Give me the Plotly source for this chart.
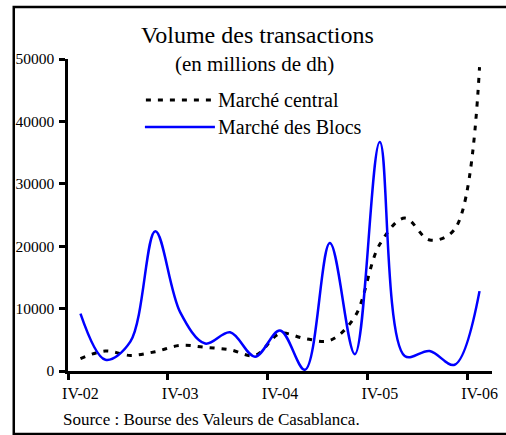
import plotly.graph_objects as go

# Quarterly transaction volumes, IV-02 .. IV-06 (millions of dh)
quarters = list(range(17))
tick_labels = ["IV-02", "IV-03", "IV-04", "IV-05", "IV-06"]
tick_positions = [0, 4, 8, 12, 16]
marche_central = [2000, 3200, 2500, 3100, 4100, 3800, 3400, 2500, 6000,
                  5200, 4900, 8700, 20300, 24500, 21000, 22700, 48700]
marche_blocs = [9200, 1800, 4700, 22400, 9400, 4400, 6200, 2300, 6500,
                200, 20500, 2700, 36700, 2400, 3200, 1000, 12800]
series_names = ["Marché central", "Marché des Blocs"]

W, H = 506, 435
L, R, T, B = 68, 498, 59, 371  # plot area in pixels
FONT = "'Liberation Serif', 'Times New Roman', serif"


def px(x):
    return (x - L) / (R - L)


def py(y):
    return (B - y) / (B - T)


fig = go.Figure()
fig.add_trace(go.Scatter(
    x=quarters, y=marche_central, mode="lines", name=series_names[0],
    line=dict(color="black", width=3, dash="5px,7px", shape="spline", smoothing=1),
    showlegend=False))
fig.add_trace(go.Scatter(
    x=quarters, y=marche_blocs, mode="lines", name=series_names[1],
    line=dict(color="#0000FF", width=2.5, shape="spline", smoothing=1),
    showlegend=False))
# invisible trace carrying the boundary tick marks of the category axis
fig.add_trace(go.Scatter(x=[-0.5], y=[0], xaxis="x2", mode="markers",
                         marker=dict(opacity=0), showlegend=False, hoverinfo="skip"))

axis_common = dict(showgrid=False, zeroline=False, showline=True, linecolor="black",
                   linewidth=2.5, ticks="outside", ticklen=6, tickwidth=2.5,
                   tickcolor="black")

fig.update_layout(
    width=W, height=H,
    margin=dict(l=L, r=W - R, t=T, b=H - B),
    paper_bgcolor="white", plot_bgcolor="white",
    font=dict(family=FONT, color="black"),
    xaxis=dict(range=[-0.5, 16.5], tickvals=tick_positions, ticktext=tick_labels,
               showgrid=False, zeroline=False, showline=False, ticks="",
               tickfont=dict(size=16, family=FONT), ticklabelstandoff=11),
    xaxis2=dict(axis_common, overlaying="x", range=[-0.5, 16.5],
                tickvals=[-0.5, 3.5, 7.5, 11.5, 15.5], showticklabels=False,
                anchor="y", side="bottom"),
    yaxis=dict(axis_common, range=[0, 50000], tickvals=[0, 10000, 20000, 30000, 40000, 50000],
               ticktext=["0", "10000", "20000", "30000", "40000", "50000"],
               tickfont=dict(size=15.5, family=FONT), ticklabelstandoff=2),
    shapes=[
        # frame around the chart
        dict(type="rect", xref="paper", yref="paper",
             x0=px(13), x1=px(520), y0=py(434), y1=py(7),
             line=dict(color="black", width=2.5), fillcolor="rgba(0,0,0,0)"),
        # legend keys
        dict(type="line", xref="paper", yref="paper", x0=px(147), x1=px(214),
             y0=py(100), y1=py(100), line=dict(color="black", width=3, dash="5px,7px")),
        dict(type="line", xref="paper", yref="paper", x0=px(146), x1=px(217),
             y0=py(127), y1=py(127), line=dict(color="#0000FF", width=2.5)),
    ],
    annotations=[
        dict(text="Volume des transactions", xref="paper", yref="paper",
             x=px(260.5), y=py(35), xanchor="center", yanchor="middle",
             showarrow=False, font=dict(size=24, family=FONT)),
        dict(text="(en millions de dh)", xref="paper", yref="paper",
             x=px(257), y=py(64), xanchor="center", yanchor="middle",
             showarrow=False, font=dict(size=21, family=FONT)),
        dict(text=series_names[0], xref="paper", yref="paper",
             x=px(218), y=py(100), xanchor="left", yanchor="middle",
             showarrow=False, font=dict(size=20, family=FONT)),
        dict(text=series_names[1], xref="paper", yref="paper",
             x=px(218), y=py(127), xanchor="left", yanchor="middle",
             showarrow=False, font=dict(size=20, family=FONT)),
        dict(text="Source : Bourse des Valeurs de Casablanca.", xref="paper", yref="paper",
             x=px(61), y=py(420), xanchor="left", yanchor="middle",
             showarrow=False, font=dict(size=17, family=FONT)),
    ],
)

fig.write_html("out.html")
